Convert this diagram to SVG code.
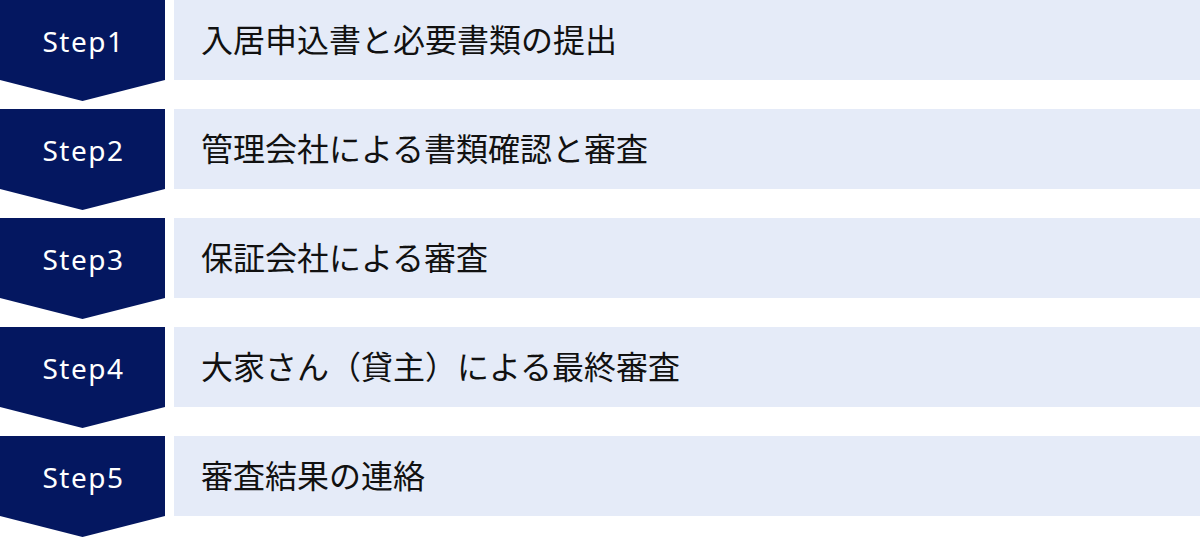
<svg xmlns="http://www.w3.org/2000/svg" width="1200" height="538" viewBox="0 0 1200 538">
<style>
.step{fill:#041760}
.box{fill:#e5ebf8}
.lbl{font-family:"Noto Sans","Liberation Sans",sans-serif;font-size:28px;fill:#ffffff;text-anchor:middle;letter-spacing:1.5px}
.txt{font-family:"Noto Sans CJK JP","Noto Sans",sans-serif;font-size:32px;fill:#111111}
</style>
<defs>
<path id="chev" d="M0 0H165V80L82.5 101L0 80Z"/>
</defs>
<rect width="1200" height="538" fill="#ffffff"/>
<g id="step1">
<use href="#chev" class="step"/>
<rect class="box" x="174" y="0" width="1026" height="80"/>
<text class="lbl" x="83.5" y="52">Step1</text>
<text class="txt" x="201" y="52">入居申込書と必要書類の提出</text>
</g>
<g id="step2" transform="translate(0,109)">
<use href="#chev" class="step"/>
<rect class="box" x="174" y="0" width="1026" height="80"/>
<text class="lbl" x="83.5" y="52">Step2</text>
<text class="txt" x="201" y="52">管理会社による書類確認と審査</text>
</g>
<g id="step3" transform="translate(0,218)">
<use href="#chev" class="step"/>
<rect class="box" x="174" y="0" width="1026" height="80"/>
<text class="lbl" x="83.5" y="52">Step3</text>
<text class="txt" x="201" y="52">保証会社による審査</text>
</g>
<g id="step4" transform="translate(0,327)">
<use href="#chev" class="step"/>
<rect class="box" x="174" y="0" width="1026" height="80"/>
<text class="lbl" x="83.5" y="52">Step4</text>
<text class="txt" x="201" y="52">大家さん（貸主）による最終審査</text>
</g>
<g id="step5" transform="translate(0,436)">
<use href="#chev" class="step"/>
<rect class="box" x="174" y="0" width="1026" height="80"/>
<text class="lbl" x="83.5" y="52">Step5</text>
<text class="txt" x="201" y="52">審査結果の連絡</text>
</g>
<g id="connectors"></g>
</svg>
